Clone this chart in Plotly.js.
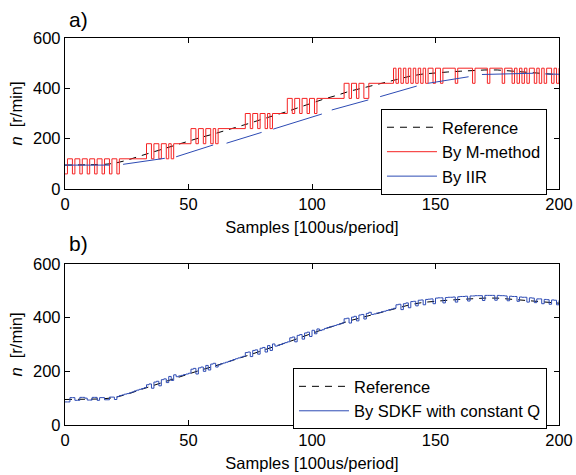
<!DOCTYPE html>
<html>
<head>
<meta charset="utf-8">
<script src="https://cdn.plot.ly/plotly-3.0.1.min.js"></script>
<style>html,body{margin:0;padding:0;background:#fff;}#chart{width:576px;height:475px;}</style>
</head>
<body>
<div id="chart"></div>
<script>
// Reference speed (anchor samples)
var refX = [0,5,10,15,20,25,30,35,40,45,50,55,60,65,70,75,80,85,90,95,100,105,110,115,120,125,130,135,140,145,150,155,160,165,170,175,180,185,190,195,200];
var refY = [95,95,96,97,102,114,130,145,162,177,190,205,218,232,248,262,278,292,308,325,343,358,372,388,400,412,425,438,449,457,462,465,468,471,473,473,469,465,460,456,454];

// M-method: sample where level changes, and the level held from there
var mX = [0,1,3,4,6,7,9,10,12,13,15,16,18,19,21,22,
          33,35,36,38,39,41,42,43,44,
          51,53,54,56,57,59,60,61,62,
          73,75,76,78,79,81,82,83,84,
          90,92,93,95,96,98,99,101,102,
          113,115,116,118,119,121,123,
          133,134,135,136,137,138,139,140,141,142,143,144,145,146,147,149,150,152,153,158,159,165,166,171,172,177,178,181,182,183,184,185,186,187,188,190,191,192,193,194,195,197,198,199,200];
var mY = [60,120,60,120,60,120,60,120,60,120,60,120,60,120,60,120,
          180,120,180,120,180,120,180,120,180,
          240,180,240,180,240,180,240,180,240,
          300,240,300,240,300,240,300,240,300,
          360,300,360,300,360,300,360,300,360,
          420,360,420,360,420,360,420,
          480,420,480,420,480,420,480,420,480,420,480,420,480,420,480,420,480,420,480,420,480,420,480,420,480,420,480,420,480,420,480,420,480,420,480,420,480,420,480,420,480,420,480,420,480,420,480];

// IIR estimate (segments separated by gaps)
var iirX = [0,18,null,23.5,40.4,null,45,60,null,65.4,79.6,null,84.3,95,104,null,108,122.8,null,127.6,142.4,null,147,163.4,null,168.8,189.7,null,194.5,200];
var iirY = [95,95,null,98,122,null,128,175,null,182,225,null,238,271,298,null,314,354,null,367,409,null,420,446,null,455,460,null,457,456];

// SDKF with constant Q, one value per sample 0..200
var sdkfY = [86,86,102,102,92,92,103,103,100,93,93,103,103,92,102,102,94,94,104,104,95,106,
  110,112,115,117,120,123,127,130,133,136,139,
  150,153,137,160,163,146,169,172,158,181,166,187,
  180,183,185,188,190,193,
  208,211,190,213,216,200,222,205,227,230,216,224,
  228,231,234,237,240,244,247,250,253,256,
  270,272,255,278,280,264,286,289,272,296,278,302,
  294,297,300,304,307,310,
  325,328,310,334,337,320,343,346,330,353,340,358,
  352,355,360,363,366,368,371,374,377,380,
  396,398,380,402,405,388,410,412,395,416,420,
  412,414,417,419,422,424,427,430,432,435,
  448,450,430,452,455,437,460,461,444,465,466,448,468,469,470,452,473,474,474,455,475,476,476,477,458,478,479,479,480,462,481,481,482,482,482,464,483,483,483,483,465,483,482,482,481,463,480,479,479,461,477,476,476,458,474,473,456,470,470,452,468,467,450,466,465,448,464];
var sdkfX = sdkfY.map(function(v,i){return i;});

var xTicks = [0,50,100,150,200];
var yTicks = [0,200,400,600];

var FONT = 'Liberation Sans, Arial, Helvetica, sans-serif';
var blue = 'rgb(45,75,180)';
var red = 'rgb(245,35,35)';

var traces = [
  {x:refX, y:refY, mode:'lines', name:'Reference', line:{color:'black', width:1, dash:'7px,6px'}, xaxis:'x', yaxis:'y', legend:'legend'},
  {x:mX, y:mY, mode:'lines', name:'By M-method', line:{color:red, width:1, shape:'hv'}, xaxis:'x', yaxis:'y', legend:'legend'},
  {x:iirX, y:iirY, mode:'lines', name:'By IIR', connectgaps:false, line:{color:blue, width:1}, xaxis:'x', yaxis:'y', legend:'legend'},
  {x:refX, y:refY, mode:'lines', name:'Reference', line:{color:'black', width:1, dash:'7px,6px'}, xaxis:'x2', yaxis:'y2', legend:'legend2'},
  {x:sdkfX, y:sdkfY, mode:'lines', name:'By SDKF with constant Q', line:{color:blue, width:1, shape:'hv'}, xaxis:'x2', yaxis:'y2', legend:'legend2'}
];

function xax(anchor){
  return {domain:[0,1], anchor:anchor, range:[0,200], tickvals:xTicks, ticks:'inside', ticklen:5, tickcolor:'black',
    mirror:'ticks', showline:true, linecolor:'black', linewidth:1.2, showgrid:false, zeroline:false,
    tickfont:{family:FONT, size:16.5, color:'black'},
    title:{text:'Samples [100us/period]', font:{family:FONT, size:16.5, color:'black'}, standoff:9}};
}
function yax(anchor, dom){
  return {domain:dom, anchor:anchor, range:[0,600], tickvals:yTicks, ticks:'inside', ticklen:5, tickcolor:'black',
    mirror:'ticks', showline:true, linecolor:'black', linewidth:1.2, showgrid:false, zeroline:false,
    tickfont:{family:FONT, size:16.5, color:'black'},
    title:{text:'<i>n</i>\u00a0\u00a0[r/min]', font:{family:FONT, size:16.5, color:'black'}, standoff:6}};
}

var layout = {
  width:576, height:475,
  margin:{l:65, r:17, t:38, b:50},
  paper_bgcolor:'white', plot_bgcolor:'white',
  font:{family:FONT, color:'black'},
  xaxis:xax('y'), yaxis:yax('x',[0.6098,1]),
  xaxis2:xax('y2'), yaxis2:yax('x2',[0,0.416]),
  showlegend:true,
  legend:{x:0.9757, xanchor:'right', y:0.8165, yanchor:'top', bgcolor:'white', bordercolor:'black', borderwidth:1,
    font:{family:FONT, size:16.5, color:'black'}, itemwidth:50, tracegroupgap:0},
  legend2:{x:0.9757, xanchor:'right', y:0.147, yanchor:'top', bgcolor:'white', bordercolor:'black', borderwidth:1,
    font:{family:FONT, size:16.5, color:'black'}, itemwidth:50, tracegroupgap:0},
  annotations:[
    {text:'a)', xref:'paper', yref:'paper', x:0.004, y:1.047, xanchor:'left', yanchor:'middle', showarrow:false, font:{family:FONT, size:21, color:'black'}},
    {text:'b)', xref:'paper', yref:'paper', x:0.004, y:0.470, xanchor:'left', yanchor:'middle', showarrow:false, font:{family:FONT, size:21, color:'black'}}
  ]
};

Plotly.newPlot('chart', traces, layout, {displayModeBar:false, staticPlot:true});
</script>
</body>
</html>
